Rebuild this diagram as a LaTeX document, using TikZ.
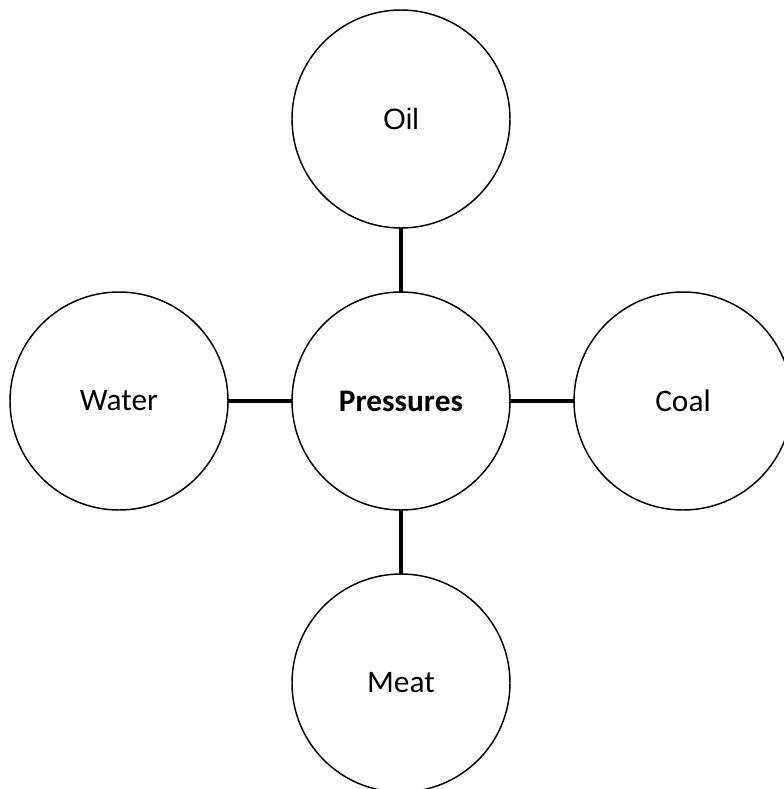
\documentclass[tikz,border=0pt]{standalone}
\usepackage{fontspec}
\setmainfont{Carlito}
\newfontfamily\oilfont{Liberation Sans}
\usetikzlibrary{positioning}

\begin{document}
\begin{tikzpicture}[node distance=48pt,
    topic/.style={circle, draw, line width=1.1pt, minimum size=163.5pt, inner sep=0pt, outer sep=0pt, font=\fontsize{23.5}{28}\selectfont},
    link/.style={line width=3.5pt}]
\useasboundingbox (0,0) rectangle (587.25pt,-591.75pt);

\node [topic] (press) at (300.75pt,-300.75pt) {\textbf{Pressures}};
\node [topic, above=of press] (oil) {\oilfont\fontsize{22}{26}\selectfont Oil};
\node [topic, left=of press] (water) {Water};
\node [topic, right=of press] (coal) {Coal};
\node [topic, below=of press] (meat) {Meat};

\draw [link] (press) -- (oil);
\draw [link] (press) -- (water);
\draw [link] (press) -- (coal);
\draw [link] (press) -- (meat);
\end{tikzpicture}
\end{document}
